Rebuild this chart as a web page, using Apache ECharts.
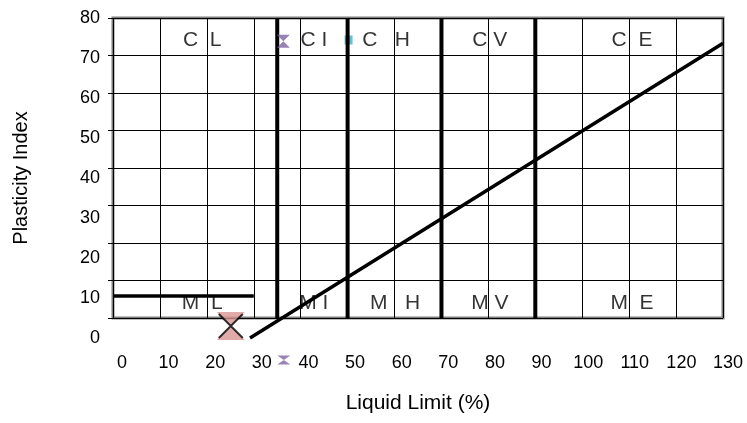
<!DOCTYPE html>
<html><head><meta charset="utf-8">
<script src="https://cdn.jsdelivr.net/npm/echarts@6/dist/echarts.min.js"></script>
<style>html,body{margin:0;padding:0;background:#fff}#c{width:747px;height:423px}</style>
</head><body><div id="c"></div>
<script>
// ---- data ----
const xTickValues = [0,10,20,30,40,50,60,70,80,90,100,110,120,130];
const yTickValues = [0,10,20,30,40,50,60,70,80];
const boundaryLL = [35,50,70,90];
const mlLine = [[0,10.5],[30,10.5]];
const aLine = [[29.2,0],[130,73.7]];
const upperZoneNames = ['C  L','C I','C   H','C V','C  E'];
const upperZoneLL = [19,42.8,58.2,80.3,110.6];
const upperZonePI = 74.5;
const lowerZoneNames = ['M  L','M I','M   H','M V','M  E'];
const lowerZoneLL = [19,42.8,60.1,80.3,110.6];
const lowerZonePI = 8.75;
const purplePoints = [[36.3,74.2],[36.4,-5.5]];
const tealPoints = [[50.2,74.5]];
const pinkPoints = [[25.1,3]];

// ---- chart ----
const FONT = 'Liberation Sans, Arial, sans-serif';
const xMin = xTickValues[0], xMax = xTickValues[xTickValues.length-1], xInt = xTickValues[1]-xTickValues[0];
const yMin = yTickValues[0], yMax = yTickValues[yTickValues.length-1], yInt = yTickValues[1]-yTickValues[0];
const hourglass = 'path://M0,0 L10,0 L0,10 L10,10 Z';
const cross = 'path://M0,0 L10,10 M10,0 L0,10';

const chart = echarts.init(document.getElementById('c'), null, {renderer:'canvas'});
const series = [];
boundaryLL.forEach(ll => series.push({
  type:'line', xAxisIndex:0, yAxisIndex:0, data:[[ll,yMin],[ll,yMax]],
  symbol:'none', lineStyle:{color:'#000', width:4}, z:3, silent:true, animation:false
}));
series.push({type:'line', xAxisIndex:1, yAxisIndex:1, data:mlLine, symbol:'none',
  lineStyle:{color:'#000', width:3.5}, z:3, animation:false});
series.push({type:'line', xAxisIndex:1, yAxisIndex:1, data:aLine, symbol:'none', clip:false,
  lineStyle:{color:'#000', width:3.5}, z:3, animation:false});
const zoneData = upperZoneNames.map((n,i)=>({name:n, value:[upperZoneLL[i], upperZonePI]}))
  .concat(lowerZoneNames.map((n,i)=>({name:n, value:[lowerZoneLL[i], lowerZonePI]})));
series.push({type:'scatter', xAxisIndex:1, yAxisIndex:1, data:zoneData, symbolSize:1,
  itemStyle:{color:'rgba(0,0,0,0)'}, z:4, animation:false,
  label:{show:true, position:'inside', formatter:'{b}', color:'#000', fontSize:21, fontFamily:FONT}});
series.push({type:'scatter', xAxisIndex:1, yAxisIndex:1, clip:false, animation:false, z:6,
  data:purplePoints.map((p,i)=>({value:p, symbolSize: i===0 ? [13,13] : [13,9]})),
  symbol:hourglass, itemStyle:{color:'#8064a2'}});
series.push({type:'scatter', xAxisIndex:1, yAxisIndex:1, clip:false, animation:false, z:2,
  data:tealPoints, symbol:'rect', symbolSize:[8,9], itemStyle:{color:'#4bacc6'}});
series.push({type:'scatter', xAxisIndex:1, yAxisIndex:1, clip:false, animation:false, z:6,
  data:pinkPoints, symbol:hourglass, symbolSize:[28,28], itemStyle:{color:'#d99694'}});
series.push({type:'scatter', xAxisIndex:1, yAxisIndex:1, clip:false, animation:false, z:7,
  data:pinkPoints, symbol:cross, symbolSize:[24,24],
  itemStyle:{color:'rgba(0,0,0,0)', borderColor:'#000', borderWidth:2}});

const hidden = {axisLine:{show:false}, axisTick:{show:false}, splitLine:{show:false}, axisLabel:{show:false}};
const option = {
  backgroundColor:'#fff',
  animation:false,
  grid:[
    {left:113, top:18, width:610, height:300, show:true, borderColor:'#808080', borderWidth:3, backgroundColor:'rgba(0,0,0,0)', outerBoundsMode:'none', containLabel:false},
    {left:113, top:18, width:610, height:320, outerBoundsMode:'none', containLabel:false},
    {left:122, top:18, width:606, height:320, outerBoundsMode:'none', containLabel:false}
  ],
  xAxis:[
    Object.assign({}, hidden, {gridIndex:0, type:'value', min:xMin, max:xMax, interval:xInt,
      splitLine:{show:true, lineStyle:{color:'#000', width:1}}}),
    Object.assign({}, hidden, {gridIndex:1, type:'value', min:xMin, max:xMax, interval:xInt,
      name:'Liquid Limit (%)', nameLocation:'middle', nameGap:55,
      nameTextStyle:{color:'#000', fontSize:21, fontFamily:FONT}}),
    Object.assign({}, hidden, {gridIndex:2, type:'value', min:xMin, max:xMax, interval:xInt,
      axisLabel:{show:true, color:'#000', fontSize:18, fontFamily:FONT, margin:16, showMinLabel:true, showMaxLabel:true}})
  ],
  yAxis:[
    Object.assign({}, hidden, {gridIndex:0, type:'value', min:yMin, max:yMax, interval:yInt,
      splitLine:{show:true, lineStyle:{color:'#000', width:1}},
      axisTick:{show:true, inside:false, length:5, lineStyle:{color:'#000', width:1}}}),
    Object.assign({}, hidden, {gridIndex:1, type:'value', min:yMin, max:yMax, interval:yInt,
      axisLabel:{show:true, color:'#000', fontSize:18, fontFamily:FONT, margin:13, showMinLabel:true, showMaxLabel:true},
      name:'Plasticity Index', nameLocation:'middle', nameGap:82,
      nameTextStyle:{color:'#000', fontSize:20, fontFamily:FONT}}),
    Object.assign({}, hidden, {gridIndex:2, type:'value', min:yMin, max:yMax, show:false})
  ],
  series: series
};
chart.setOption(option);
</script></body></html>
